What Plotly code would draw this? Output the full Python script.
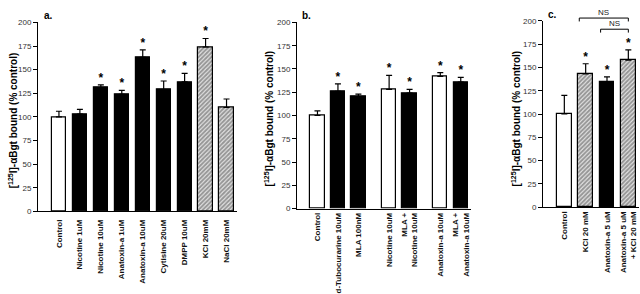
import plotly.graph_objects as go

# ---------------- data ----------------
a_labels = ["Control", "Nicotine 1uM", "Nicotine 10uM", "Anatoxin-a 1uM", "Anatoxin-a 10uM",
            "Cytisine 20uM", "DMPP 10uM", "KCl 20mM", "NaCl 20mM"]
a_values = [100, 103, 131, 124, 163, 129, 137, 174, 110]
a_errors = [6, 5, 3, 4, 8, 9, 9, 9, 9]
a_fill = ["open", "solid", "solid", "solid", "solid", "solid", "solid", "hatch", "hatch"]
a_sig = [0, 0, 1, 1, 1, 1, 1, 1, 0]

b_labels = ["Control", "d-Tubocurarine 10uM", "MLA 100nM", "Nicotine 10uM",
            "MLA +<br>Nicotine 10uM", "Anatoxin-a 10uM", "MLA +<br>Anatoxin-a 10uM"]
b_values = [100, 126, 120, 128, 124, 142, 136]
b_errors = [5, 8, 3, 15, 4, 4, 5]
b_fill = ["open", "solid", "solid", "open", "solid", "open", "solid"]
b_sig = [0, 1, 1, 1, 1, 1, 1]
b_group = [0, 0, 0, 1, 1, 2, 2]

c_labels = ["Control", "KCl 20 mM", "Anatoxin-a 5 uM", "Anatoxin-a 5 uM<br>+ KCl 20 mM"]
c_values = [100, 143, 134, 158]
c_errors = [20, 11, 6, 11]
c_fill = ["open", "hatch", "solid", "hatch"]
c_sig = [0, 1, 1, 1]
c_ns_pairs = [(1, 3), (2, 3)]

y_ticks = [0, 25, 50, 75, 100, 125, 150, 175, 200]
y_title = "[<sup>125</sup>I]-αBgt bound (% control)"

# ---------------- styling ----------------
W, H = 640, 294
FONT = "Liberation Sans, Arial, sans-serif"
fill_color = {"open": "white", "solid": "black", "hatch": "#e8e8e8"}
fill_shape = {"open": "", "solid": "", "hatch": "/"}


def px_x(p):
    return p / W


def px_y(p):
    return 1 - p / H


fig = go.Figure()


def add_panel(idx, xs, values, errors, fills, sig, width):
    sx = "" if idx == 1 else str(idx)
    fig.add_trace(go.Bar(
        x=xs, y=values, width=width,
        marker=dict(color=[fill_color[f] for f in fills],
                    line=dict(color="black", width=1.2),
                    pattern=dict(shape=[fill_shape[f] for f in fills], fgcolor="#333333",
                                 size=3, solidity=0.65, fillmode="overlay")),
        error_y=dict(type="data", symmetric=False, array=errors, arrayminus=[0] * len(errors),
                     color="black", thickness=1.2, width=3),
        xaxis="x" + sx, yaxis="y" + sx, showlegend=False, hoverinfo="skip"))
    sx_pts = [x for x, s in zip(xs, sig) if s]
    sy_pts = [v + e for v, e, s in zip(values, errors, sig) if s]
    fig.add_trace(go.Scatter(
        x=sx_pts, y=sy_pts, mode="text", text=["*"] * len(sx_pts), textposition="top center",
        textfont=dict(size=12, family=FONT, color="black", weight="bold"), cliponaxis=False,
        xaxis="x" + sx, yaxis="y" + sx, showlegend=False, hoverinfo="skip"))


a_x = list(range(len(a_values)))
b_x = [i + 0.5 * g for i, g in enumerate(b_group)]
c_x = list(range(len(c_values)))

add_panel(1, a_x, a_values, a_errors, a_fill, a_sig, 0.68)
add_panel(2, b_x, b_values, b_errors, b_fill, b_sig, 0.70)
add_panel(3, c_x, c_values, c_errors, c_fill, c_sig, 0.70)

xa_common = dict(showline=True, linecolor="black", linewidth=1, ticks="", showgrid=False,
                 zeroline=False, tickangle=-90,
                 tickfont=dict(size=8, family=FONT, color="#111", weight="bold"),
                 fixedrange=True)
ya_common = dict(showline=True, linecolor="black", linewidth=1, ticks="outside", ticklen=4,
                 tickwidth=1, tickcolor="black", showgrid=False, zeroline=False, range=[0, 200],
                 tickvals=y_ticks, tickfont=dict(size=8, family=FONT, color="#333"),
                 fixedrange=True)

fig.update_layout(
    width=W, height=H, margin=dict(l=0, r=0, t=0, b=0),
    paper_bgcolor="white", plot_bgcolor="white", showlegend=False, bargap=0,
    font=dict(family=FONT),
    xaxis=dict(xa_common, domain=[px_x(38), px_x(237)], range=[-1, len(a_values) - 0.5],
               tickvals=a_x, ticktext=a_labels, anchor="y", ticklabelstandoff=4),
    yaxis=dict(ya_common, domain=[px_y(214), px_y(19)], anchor="x"),
    xaxis2=dict(xa_common, domain=[px_x(297), px_x(471)], range=[-1, b_x[-1] + 0.5],
                tickvals=b_x, ticktext=b_labels, anchor="y2"),
    yaxis2=dict(ya_common, domain=[px_y(211), px_y(19)], anchor="x2"),
    xaxis3=dict(xa_common, domain=[px_x(543), px_x(639)], range=[-1, len(c_values) - 0.5],
                tickvals=c_x, ticktext=c_labels, anchor="y3"),
    yaxis3=dict(ya_common, domain=[px_y(209.5), px_y(17.5)], anchor="x3"),
)

ann = []
# panel letters
for letter, xp, yp in [("a.", 42, 12), ("b.", 300, 12), ("c.", 546, 11)]:
    ann.append(dict(text="<b>%s</b>" % letter, x=px_x(xp), y=px_y(yp), xref="paper", yref="paper",
                    xanchor="left", yanchor="middle", showarrow=False,
                    font=dict(size=10, family=FONT, color="black")))
# y titles
for xp, yp in [(13, 120), (269, 118), (516, 118)]:
    ann.append(dict(text="<b>%s</b>" % y_title, x=px_x(xp), y=px_y(yp), xref="paper", yref="paper",
                    xanchor="center", yanchor="middle", textangle=-90, showarrow=False,
                    font=dict(size=10, family=FONT, color="black")))

# NS brackets (panel c)
shapes = []
for k, (i0, i1) in enumerate(c_ns_pairs):
    ytop = px_y(14.5 + 11.5 * k)
    ybot = px_y(18 + 11.5 * k)
    x0, x1 = c_x[i0] - 0.3, c_x[i1]
    for path in [(x0, ytop, x1, ytop), (x0, ytop, x0, ybot), (x1, ytop, x1, ybot)]:
        shapes.append(dict(type="line", xref="x3", yref="paper", x0=path[0], y0=path[1],
                           x1=path[2], y1=path[3], line=dict(color="black", width=1)))
    ann.append(dict(text="NS", x=(x0 + x1) / 2, y=ytop, xref="x3", yref="paper",
                    xanchor="center", yanchor="bottom", showarrow=False, yshift=-1,
                    font=dict(size=8, family=FONT, color="#222")))

fig.update_layout(annotations=ann, shapes=shapes)
fig.write_html("out.html", config={"displayModeBar": False},
               post_script="document.body.style.margin='0';document.body.style.overflow='hidden';")
